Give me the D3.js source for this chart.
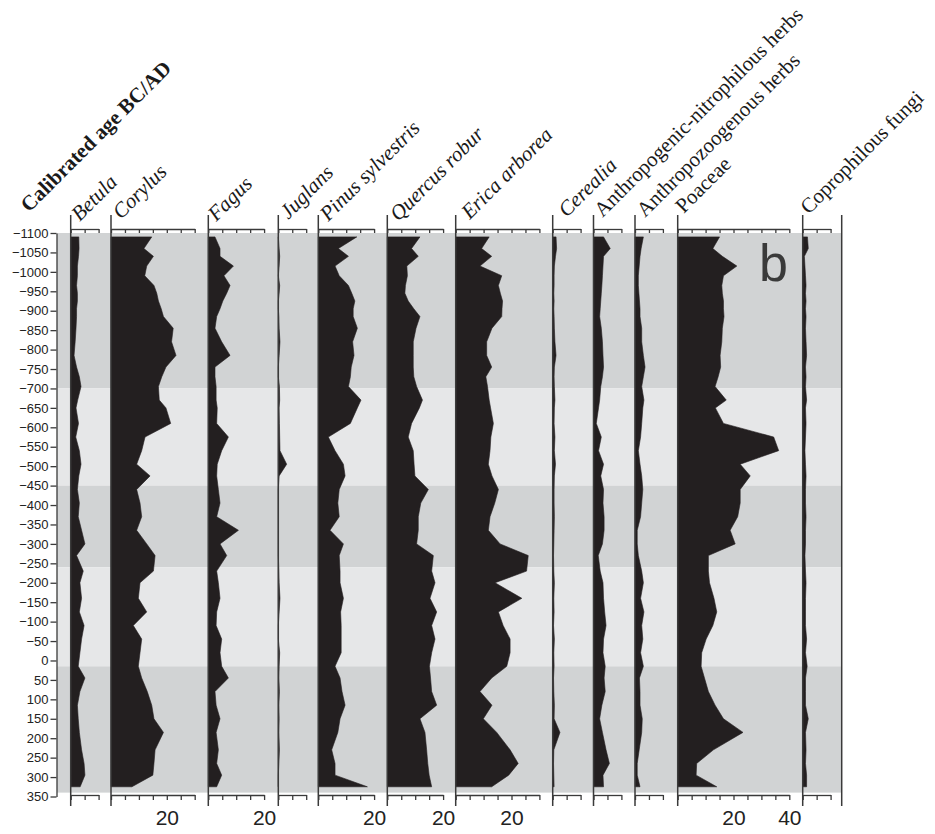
<!DOCTYPE html>
<html><head><meta charset="utf-8">
<script src="https://cdn.jsdelivr.net/npm/d3@7"></script>
<style>body{margin:0;background:#fff}svg{display:block}</style>
</head><body>
<script>
// ---------------- DATA ----------------
const taxa = ["Betula","Corylus","Fagus","Juglans","Pinus sylvestris","Quercus robur","Erica arborea","Cerealia","Anthropogenic-nitrophilous herbs","Anthropozoogenous herbs","Poaceae","Coprophilous fungi"];
const italicTaxa = ["Betula","Corylus","Fagus","Juglans","Pinus sylvestris","Quercus robur","Erica arborea","Cerealia"];
const axisMax = [10,30,20,10,20,20,30,10,10,10,40,10];
const tickLabels = [[],[20],[20],[],[20],[20],[20],[],[],[],[20,40],[]];
const ageTicks = d3.range(-1100, 351, 50);
const ages = [-1090,-1060,-1040,-1015,-990,-965,-945,-925,-905,-885,-855,-820,-785,-755,-730,-705,-670,-650,-610,-575,-540,-505,-475,-440,-405,-370,-335,-300,-270,-230,-200,-160,-125,-90,-55,-20,15,45,80,115,150,185,230,265,295,325];
const betula = [2.9,3.0,2.8,2.4,2.4,2.1,2.4,2.4,2.1,2.1,1.9,1.6,1.2,2.1,3.1,3.7,2.5,1.9,2.8,1.8,3.1,3.7,2.9,2.4,3.1,2.7,3.9,5.1,2.1,4.5,3.3,3.9,3.1,4.8,3.9,3.3,2.7,5.1,3.3,2.4,2.7,3.1,3.9,4.8,5.1,3.4];
const corylus = [14.6,11.8,15.2,12.8,12.1,15.4,16.4,17,18,18.8,22.3,21.7,23.3,19.7,18.2,17,17.3,19.7,21.4,12.2,11,9.2,14,9.2,10.4,11,9.2,12.8,15.8,15.2,10.4,9.8,12.8,8,11,10.4,9.8,11,13,14.6,15.4,18.8,15.8,15.4,15,7.5];
const fagus = [2.4,4.2,4.2,9,5.6,7.8,6.6,5.2,4.2,3,2.4,4.8,7.8,2.4,2.4,2.8,2.8,3.2,3,7.2,4.8,3.2,3,3.6,4.2,3,10.8,4.2,6.6,3,3.6,4.2,3,2.8,4.8,4.2,4.8,7.2,2.4,2.8,4.2,2.8,3.6,3,4.8,3];
const juglans = [0,0.3,0.5,0.3,0,0.5,0.3,0,0,0.2,0.3,0.6,0.3,0,0,0.4,0.5,0.3,0.4,0.5,0.6,3.0,0.3,0,0,0,0,0,0,0.2,0.3,0.6,0.3,0,0,0.5,0.3,0.2,0.4,0.2,0.3,0.2,0.4,0.2,0,0];
const pinus = [13.8,7.2,10.8,6,7.5,10.8,12,13.1,12.5,12.5,14,12.3,12.8,11.8,11.5,10.8,15.3,14,11.5,3.6,6,9,9.6,7.5,7,7.5,4.2,9,7.5,7.8,7.8,9,8,8.2,8.2,8.2,6,7.8,8.5,9.6,7.8,7,4.8,6,6,17.6];
const quercus = [11.7,8.7,11.1,7,7.2,6.5,6.3,7.5,9.5,11.7,10.3,9.3,9.3,9.3,9.5,10.5,12.6,11.5,8.7,7.5,9.3,9.6,9.9,14.7,12,11.1,11.1,10.5,16.5,15.9,17.1,15.3,17.7,15.9,17.1,15.9,15.1,15.5,15.9,17.7,11.7,13.5,14.1,14.5,15,15.9];
const erica = [12,9.3,12.9,8.7,16.5,15.3,16,16.8,16.6,16.5,13,11.1,11.1,12.9,10.8,11.4,12,12.5,13.5,12.6,12.3,11.7,13,15.3,14,12.3,11.7,15.9,26,25.4,14.1,23.7,15.3,17,19.5,19.5,18.3,12.9,8.7,13,9.9,14.7,19.5,22.4,19,12.9];
const cerealia = [1.2,1.4,1.0,0.6,0.5,0.5,0.4,0.5,0.4,0.5,0.6,0.8,1.2,0.6,0.5,0.6,0.8,0.6,0.5,0.8,0.6,1.0,0.6,0.5,0.5,0.6,0.5,0.4,0.3,0.4,0.6,0.4,0.5,0.3,0.6,0.4,0.5,0.3,0.4,0.6,0.5,2.6,0.4,0.3,0.4,0.5];
const anthNitro = [3.6,6,3.6,3.4,3.2,3,2.8,2.6,2.4,2.2,2.8,3.2,3.4,3.6,3.2,2.6,2.2,1.8,1,2.8,1.8,3.6,2.6,3.6,3.4,3.8,3.8,3.2,1.7,2.4,3.4,3.6,4,4.5,3.6,3.4,4.2,3.8,4.2,3,2.2,3.2,4.5,5.7,3.4,3.6];
const anthZoo = [3.0,2.2,1.8,1.5,1.2,1.2,1.4,1.6,1.8,1.8,2.4,2.4,3.0,3.6,3.0,2.4,3.2,2.8,2.4,2.0,1.2,1.8,2.4,2.8,2.4,2.0,0.8,0.8,1.2,2.4,3.0,2.0,3.2,2.4,2.8,2.0,3.0,1.6,1.8,1.8,2.6,2.4,1.5,0.8,0.8,1.8];
const poaceae = [15,12.6,16,21.2,16.4,15.8,16,16.4,16.4,16.6,16,15.8,15.2,15.4,14.5,13.4,17.4,13.5,16.4,34.4,36.2,22.4,26,22.4,22.4,21.5,18.8,20.6,11,11,11.4,13,14,12.6,10.2,8.6,8.4,9.6,11,13.4,16.4,23.4,12.8,6.8,6.6,14];
const fungi = [1.7,2,0.6,0.8,1.0,1.2,1.0,1.2,1.0,1.2,1.0,1.2,1.4,1.0,1.2,1.0,1.4,1.0,1.2,1.0,0.8,1.0,1.2,1.0,1.0,1.2,1.0,1.0,0.8,1.0,1.2,1.0,1.0,1.0,1.4,1.0,1.6,1.0,1.0,1.0,2.0,1.0,1.2,1.0,1.4,1.4];
const zoneEdges = [-1100,-700,-450,-240,15,340];
const zoneShade = ["dark","light","dark","light","dark"];
const series = [betula,corylus,fagus,juglans,pinus,quercus,erica,cerealia,anthNitro,anthZoo,poaceae,fungi];

// ---------------- LAYOUT ----------------
const W = 935, H = 834;
const panelLeft = [70.7,111,208.3,278.3,318.3,387.3,455.7,552.7,593.5,635,677.7,802.7];
const pxPerPct = 2.79;
const rightLine = 841.7;
const labelDx = [9,10,8,10,10,11,14,14,9,10,6,6];
const labelY = [222,220,222,220,222,222,220,218,218,218,214,215];
const lineTop = 215, lineBottom = 806, topAxisY = 229, bottomAxisY = 795;
const ink = "#3a3a3a", fillCol = "#231f20";
const shade = {dark:"#d1d3d4", light:"#e6e7e8"};
const headFont = 21;

const svg = d3.select("body").append("svg").attr("width", W).attr("height", H);
const y = d3.scaleLinear().domain([-1100, 350]).range([233, 796.5]);

// zone bands
svg.append("g").selectAll("rect").data(zoneShade).join("rect")
  .attr("x", 57).attr("width", rightLine - 57)
  .attr("y", (d,i) => y(zoneEdges[i]))
  .attr("height", (d,i) => y(zoneEdges[i+1]) - y(zoneEdges[i]))
  .attr("fill", d => shade[d]);

// y axis
const yAxis = svg.append("g").attr("transform", "translate(56.5,0)")
  .call(d3.axisLeft(y).tickValues(ageTicks).tickSize(6).tickSizeOuter(0).tickPadding(2).tickFormat(d3.format("d")));
yAxis.selectAll("path,line").attr("stroke", ink).attr("stroke-width", 1.3);
yAxis.selectAll("text").attr("font-family", "'Liberation Sans', Arial, sans-serif").attr("font-size", 13).attr("fill", "#222");

// panels
taxa.forEach((name, i) => {
  const x0 = panelLeft[i];
  const x = d3.scaleLinear().domain([0, axisMax[i]]).range([x0, x0 + axisMax[i] * pxPerPct]);
  const g = svg.append("g");
  const pts = ages.map((a, k) => ({age: a, v: series[i][k]}));
  g.append("path").datum(pts)
    .attr("d", d3.area().y(d => y(d.age)).x0(x(0)).x1(d => x(d.v)))
    .attr("fill", fillCol).attr("stroke", fillCol).attr("stroke-width", 0.6);
  const tv = d3.range(0, axisMax[i] + 0.1, 5);
  const top = g.append("g").attr("transform", `translate(0,${topAxisY})`)
    .call(d3.axisBottom(x).tickValues(tv).tickSize(4).tickSizeOuter(0).tickFormat(""));
  const bot = g.append("g").attr("transform", `translate(0,${bottomAxisY})`)
    .call(d3.axisBottom(x).tickValues(tv).tickSize(5).tickSizeOuter(0)
      .tickFormat(d => tickLabels[i].includes(d) ? d : "").tickPadding(10));
  [top, bot].forEach(a => a.selectAll("path,line").attr("stroke", ink).attr("stroke-width", 1.3));
  bot.selectAll("text").attr("font-family", "'Liberation Sans', Arial, sans-serif").attr("font-size", 21).attr("fill", "#222");
  g.append("line").attr("x1", x0).attr("x2", x0).attr("y1", lineTop).attr("y2", lineBottom)
    .attr("stroke", ink).attr("stroke-width", 1.5);
  const lx = x0 + labelDx[i], ly = labelY[i];
  g.append("text").attr("transform", `translate(${lx},${ly}) rotate(-45)`)
    .attr("font-family", "'Liberation Serif', 'Times New Roman', serif").attr("font-size", headFont)
    .attr("font-style", italicTaxa.includes(name) ? "italic" : "normal").attr("fill", "#1a1a1a")
    .text(name);
});

// right border line
svg.append("line").attr("x1", rightLine).attr("x2", rightLine).attr("y1", lineTop).attr("y2", lineBottom)
  .attr("stroke", ink).attr("stroke-width", 1.5);

// y title
svg.append("text").attr("transform", "translate(29,213) rotate(-45)")
  .attr("font-family", "'Liberation Serif', 'Times New Roman', serif").attr("font-size", headFont).attr("font-weight", "bold")
  .attr("fill", "#1a1a1a").text("Calibrated age BC/AD");

// panel letter
svg.append("text").attr("x", 759).attr("y", 281).attr("font-family", "'Liberation Sans', Arial, sans-serif")
  .attr("font-size", 52).attr("fill", "#3a3a3a").text("b");
</script>
</body></html>
